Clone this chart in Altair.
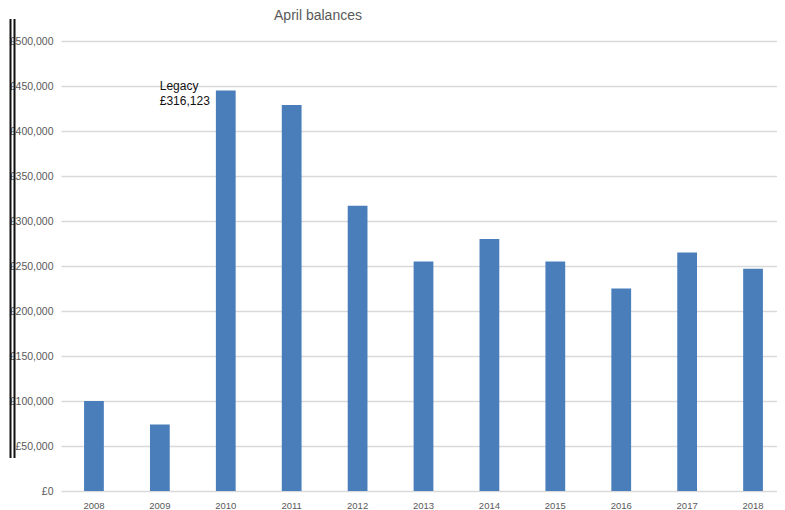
import altair as alt
import pandas as pd

years = ["2008", "2009", "2010", "2011", "2012", "2013", "2014", "2015", "2016", "2017", "2018"]
balances = [100000, 74000, 445000, 429000, 317000, 255000, 280000, 255000, 225000, 265000, 247000]
title_text = "April balances"
note_lines = ["Legacy", "£316,123"]

df = pd.DataFrame({"year": years, "balance": balances})

W, H = 716, 450

x_enc = alt.X("year:N", sort=years,
              scale=alt.Scale(paddingInner=0.7, paddingOuter=0.35, range=[0, 725]),
              axis=alt.Axis(title=None, labelAngle=0, ticks=False, domain=False,
                            labelFontSize=9.5, labelColor="#595959", labelFont="Liberation Sans",
                            labelPadding=9))
y_enc = alt.Y("balance:Q",
              scale=alt.Scale(domain=[0, 500000]),
              axis=alt.Axis(title=None, values=list(range(0, 500001, 50000)),
                            labelExpr="'£' + format(datum.value, ',')",
                            ticks=False, domain=False,
                            labelFontSize=10.5, labelColor="#595959", labelFont="Liberation Sans",
                            labelPadding=8, gridColor="#d9d9d9", gridWidth=1.5))

bars = alt.Chart(df).mark_bar(color="#4a7ebb").encode(x=x_enc, y=y_enc)

note_df = pd.DataFrame({"year": ["2010", "2010"], "balance": [445000, 445000],
                        "line": note_lines, "i": [0, 1]})

note1 = alt.Chart(note_df[note_df.i == 0]).mark_text(
    align="left", baseline="middle", fontSize=12, font="Liberation Sans", color="#111111",
    dx=-66, dy=-5).encode(x=alt.X("year:N", sort=years), y="balance:Q", text="line:N")
note2 = alt.Chart(note_df[note_df.i == 1]).mark_text(
    align="left", baseline="middle", fontSize=12, font="Liberation Sans", color="#111111",
    dx=-66, dy=10).encode(x=alt.X("year:N", sort=years), y="balance:Q", text="line:N")

title_df = pd.DataFrame({"t": [title_text]})
title = alt.Chart(title_df).mark_text(fontSize=14, font="Liberation Sans", color="#595959",
                                      align="center", baseline="alphabetic").encode(
    x=alt.value(257), y=alt.value(-21), text="t:N")

line_df = pd.DataFrame({"k": [0]})
vline1 = alt.Chart(line_df).mark_rule(color="#111111", strokeWidth=2).encode(
    x=alt.value(-50.5), y=alt.value(-22), y2=alt.value(417))
vline2 = alt.Chart(line_df).mark_rule(color="#111111", strokeWidth=2).encode(
    x=alt.value(-46.5), y=alt.value(-22), y2=alt.value(417))

chart = alt.layer(bars, note1, note2, title, vline1, vline2).properties(
    width=W, height=H,
    autosize=alt.AutoSizeParams(type="none"),
    padding={"left": 53, "top": 33, "right": 0, "bottom": 18},
    background="white",
).configure_view(stroke=None)

chart.save("out.html", embed_options={"renderer": "svg", "actions": False})
